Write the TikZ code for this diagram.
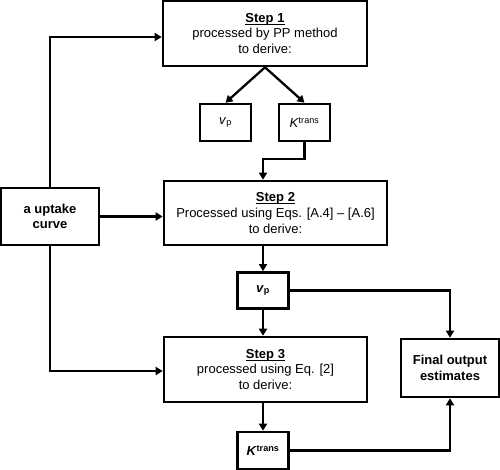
\documentclass[tikz,border=0pt]{standalone}
\usepackage{fontspec}
\setmainfont{Liberation Sans}
\usetikzlibrary{arrows.meta}
\newcommand{\steptitle}[1]{\setbox0\hbox{\textbf{#1}}\rlap{\rule[-2.2pt]{\wd0}{1pt}}\box0}
\begin{document}
\begin{tikzpicture}[x=1pt, y=-1pt,
	box/.style={draw=black, line width=2.6pt, rectangle, align=center,
		inner sep=0pt, font=\fontsize{13}{15.6}\selectfont},
	arr/.style={line width=2.3pt, -{Triangle[length=7pt,width=8pt]}}]
	\useasboundingbox (0,0) rectangle (500,470);
	% Schritte
	\node[box, minimum width=204, minimum height=65] (step1) at (265,33.5)
		{\steptitle{Step 1}\\processed by PP method\\to derive:};
	\node[box, minimum width=223, minimum height=64] (step2) at (275.5,213)
		{\steptitle{Step 2}\\Processed using Eqs. [A.4] -- [A.6]\\to derive:};
	\node[box, minimum width=203, minimum height=65] (step3) at (265.5,369.5)
		{\steptitle{Step 3}\\processed using Eq. [2]\\to derive:};
	% Eingang und Ausgang
	\node[box, minimum width=98, minimum height=57] (curve) at (50,216.5)
		{\textbf{a uptake}\\\textbf{curve}};
	\node[box, minimum width=98, minimum height=58] (final) at (450,368)
		{\textbf{Final output}\\\textbf{estimates}};
	% Parameter
	\node[box, minimum width=51, minimum height=37] (vp1) at (225.5,122.5)
		{\textit{v}\textsubscript{p}};
	\node[box, minimum width=51, minimum height=37] (kt1) at (304.5,122.5)
		{\textit{K}\textsuperscript{trans}};
	\node[box, minimum width=51, minimum height=36] (vp2) at (263,290.5)
		{\textbf{\textit{v}\textsubscript{p}}};
	\node[box, minimum width=51, minimum height=37] (kt2) at (263,450.5)
		{\textbf{\textit{K}\textsuperscript{trans}}};
	% Pfeile
	\draw[arr] (step1.south) -- (vp1.north);
	\draw[arr] (step1.south) -- (kt1.north);
	\draw[arr] (kt1.south) -- ++(0,17) -| (vp2.north |- step2.north);
	\draw[arr] (curve.north) |- ([yshift=-3.5pt]step1.west);
	\draw[arr] (curve.east) -- (curve.east -| step2.west);
	\draw[arr] (curve.south) |- ([yshift=-1.5pt]step3.west);
	\draw[arr] (vp2.north |- step2.south) -- (vp2.north);
	\draw[arr] (vp2.south) -- (vp2.south |- step3.north);
	\draw[arr] (kt2.north |- step3.south) -- (kt2.north);
	\draw[arr] (vp2.east) -| (final.north);
	\draw[arr] (kt2.east) -| (final.south);
\end{tikzpicture}
\end{document}
